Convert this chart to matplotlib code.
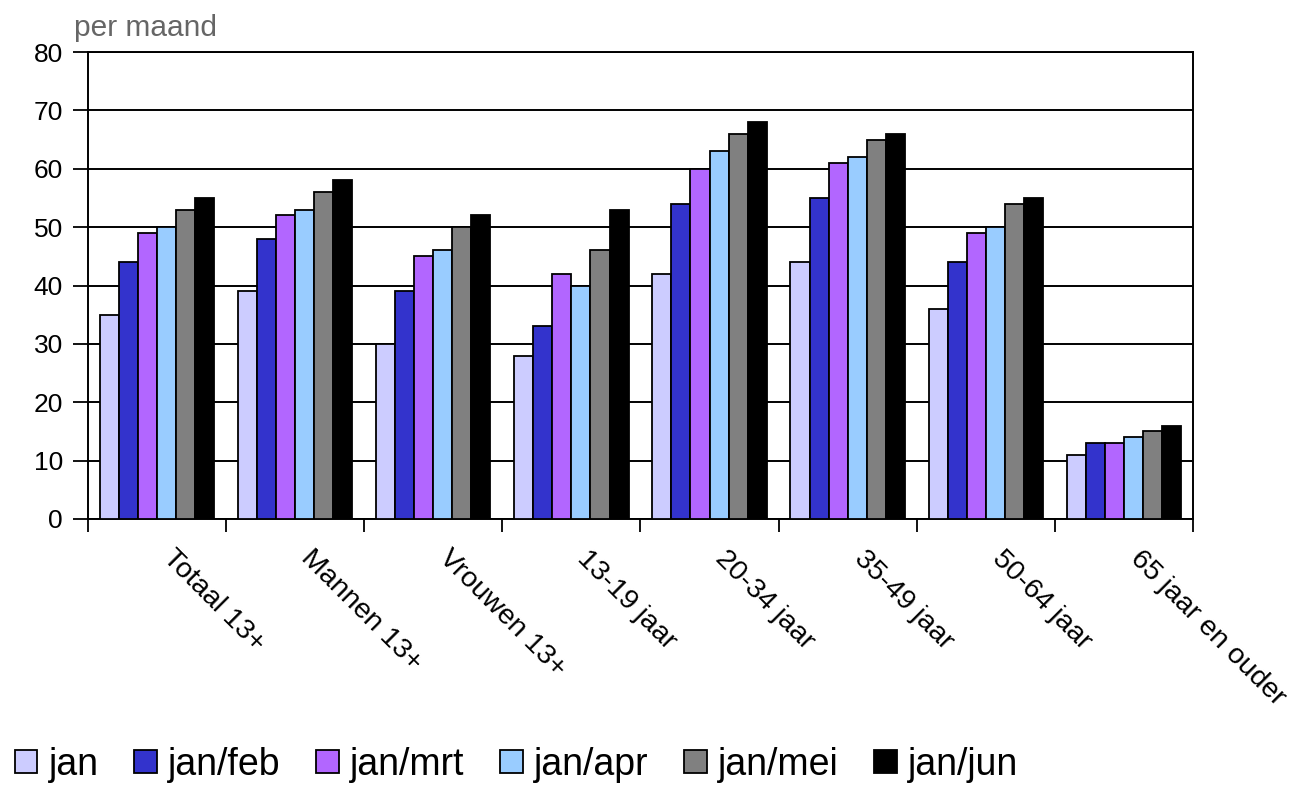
import matplotlib.pyplot as plt
import numpy as np

plt.rcParams['font.family'] = ['Liberation Sans', 'DejaVu Sans']

# categories and series
categories = ['Totaal 13+', 'Mannen 13+', 'Vrouwen 13+', '13-19 jaar',
              '20-34 jaar', '35-49 jaar', '50-64 jaar', '65 jaar en ouder']
series_names = ['jan', 'jan/feb', 'jan/mrt', 'jan/apr', 'jan/mei', 'jan/jun']
jan = [35, 39, 30, 28, 42, 44, 36, 11]
jan_feb = [44, 48, 39, 33, 54, 55, 44, 13]
jan_mrt = [49, 52, 45, 42, 60, 61, 49, 13]
jan_apr = [50, 53, 46, 40, 63, 62, 50, 14]
jan_mei = [53, 56, 50, 46, 66, 65, 54, 15]
jan_jun = [55, 58, 52, 53, 68, 66, 55, 16]
colors = ['#CCCCFF', '#3333CC', '#B266FF', '#99CCFF', '#808080', '#000000']

all_series = [jan, jan_feb, jan_mrt, jan_apr, jan_mei, jan_jun]

fig = plt.figure(figsize=(12.99, 7.86), dpi=100)
ax = fig.add_axes([0.0677, 0.3397, 0.8507, 0.5941])

x = np.arange(len(categories))
bw = 0.138
for i, (vals, name, col) in enumerate(zip(all_series, series_names, colors)):
    ax.bar(x + (i - 2.5) * bw, vals, width=bw, color=col, edgecolor='black',
           linewidth=1.3, label=name, zorder=3)

ax.set_xlim(-0.5, len(categories) - 0.5)
ax.set_ylim(0, 80)
ax.set_yticks(range(0, 81, 10))
ax.tick_params(axis='y', labelsize=19, length=11, width=1.3, direction='out', pad=7)
ax.yaxis.grid(True, color='black', linewidth=1.4, zorder=0)

# x ticks at category boundaries, labels at centres
ax.set_xticks(np.arange(-0.5, len(categories), 1.0))
ax.set_xticklabels([])
ax.tick_params(axis='x', length=9, width=1.3, direction='out')
for xi, lab in zip(x, categories):
    ax.text(xi + 0.14, -4.5, lab, rotation=-45, ha='left', va='top',
            rotation_mode='anchor', fontsize=20.5)

for sp in ax.spines.values():
    sp.set_linewidth(1.4)

fig.text(0.057, 0.954, 'per maand', fontsize=21.5, color='#666666', ha='left', va='baseline')

fig.legend(*ax.get_legend_handles_labels(), loc='center left',
           bbox_to_anchor=(0.0115, 0.027), ncol=6, frameon=False,
           fontsize=27, handlelength=0.6, handleheight=0.6, handletextpad=0.3,
           columnspacing=0.95, borderaxespad=0, borderpad=0)

fig.savefig('out.png', dpi=100)
